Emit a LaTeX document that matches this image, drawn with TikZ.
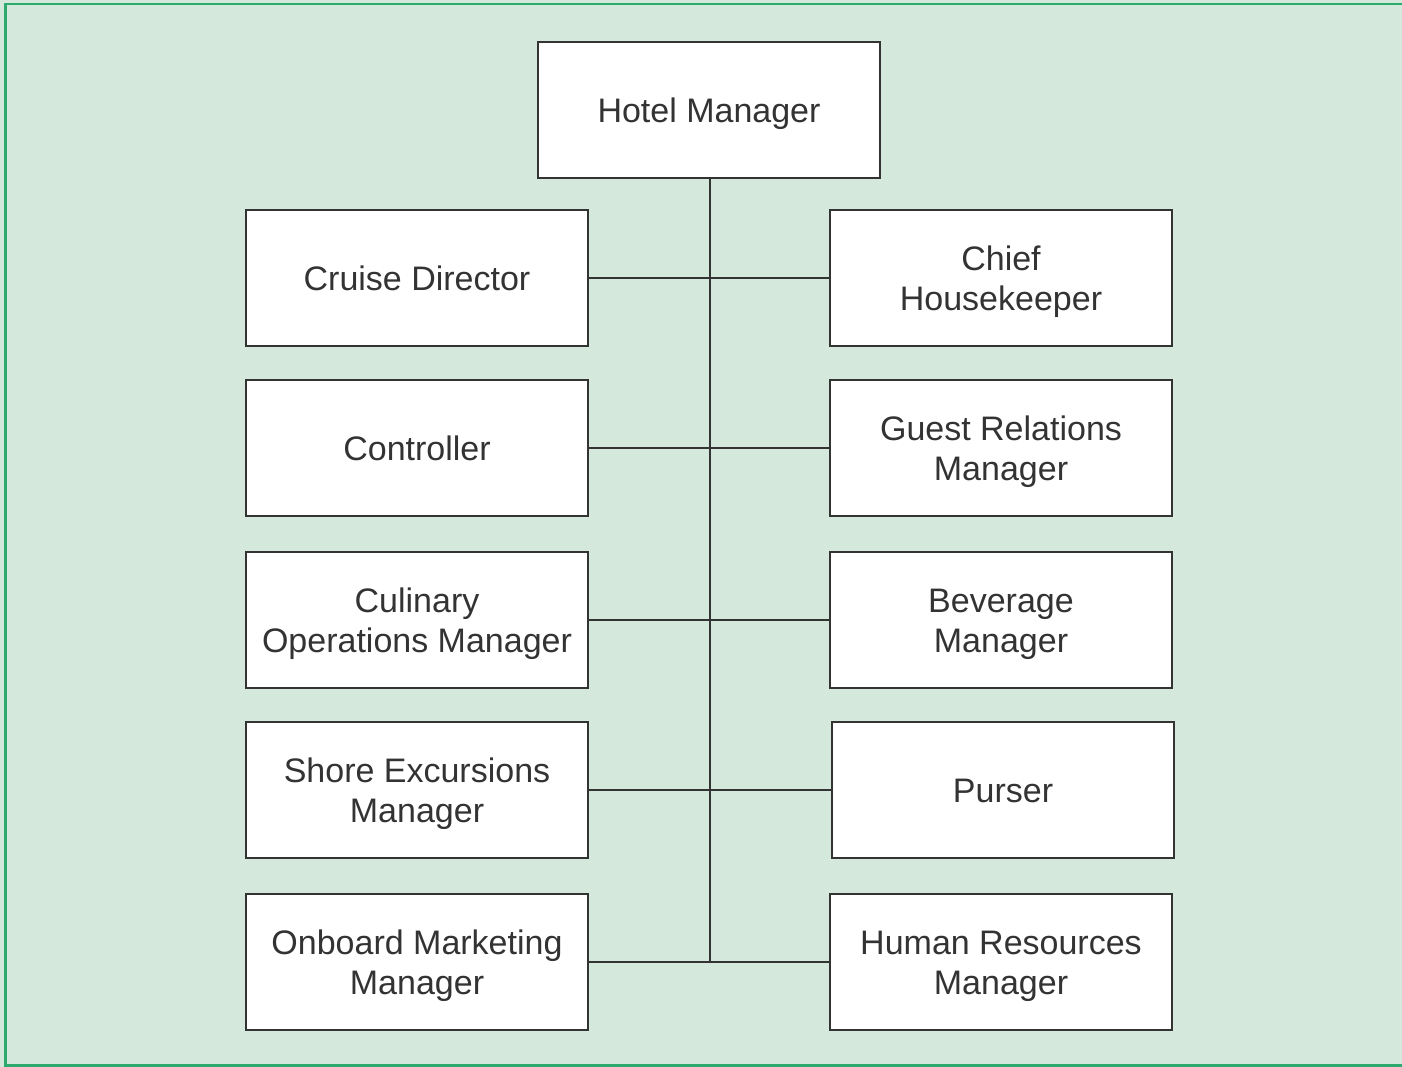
\documentclass[tikz,border=0pt]{standalone}
\usepackage{fontspec}
\setmainfont{Liberation Sans}
\definecolor{bg}{HTML}{D5E8DC}
\definecolor{frame}{HTML}{2FAA6E}
\definecolor{ink}{HTML}{333333}
\begin{document}
\begin{tikzpicture}[x=1pt,y=-1pt,
  box/.style={draw=ink,line width=2pt,fill=white,minimum width=342pt,minimum height=136pt,
    align=center,text=ink,font=\fontsize{34}{40}\selectfont,inner sep=0pt,
    text height=24.4pt,text depth=0pt},
  twoline/.style={text height=64.4pt,text depth=0pt},
  link/.style={draw=ink,line width=2pt}]
\useasboundingbox (0,0) rectangle (1402,1067);
\fill[bg] (0,0) rectangle (1402,1067);
\draw[frame,line width=2.5pt] (1410,4) -- (5.5,4) -- (5.5,1065.5) -- (1410,1065.5);
\node[box] (hm) at (709,110) {Hotel Manager};
\node[box] (cd) at (417,278) {Cruise Director};
\node[box] (ct) at (417,448) {Controller};
\node[box,twoline] (cu) at (417,620) {Culinary\\Operations Manager};
\node[box,twoline] (se) at (417,790) {Shore Excursions\\Manager};
\node[box,twoline] (om) at (417,962) {Onboard Marketing\\Manager};
\node[box,twoline] (ch) at (1001,278) {Chief\\Housekeeper};
\node[box,twoline] (gr) at (1001,448) {Guest Relations\\Manager};
\node[box,twoline] (bm) at (1001,620) {Beverage\\Manager};
\node[box] (pu) at (1003,790) {Purser};
\node[box,twoline] (hr) at (1001,962) {Human Resources\\Manager};
\coordinate (bot) at (710,962);
\draw[link] (hm.south) ++(1,0) -- (bot);
\draw[link] (cd.east) -- (ch.west);
\draw[link] (ct.east) -- (gr.west);
\draw[link] (cu.east) -- (bm.west);
\draw[link] (se.east) -- (pu.west);
\draw[link] (om.east) -- (hr.west);
\end{tikzpicture}
\end{document}
